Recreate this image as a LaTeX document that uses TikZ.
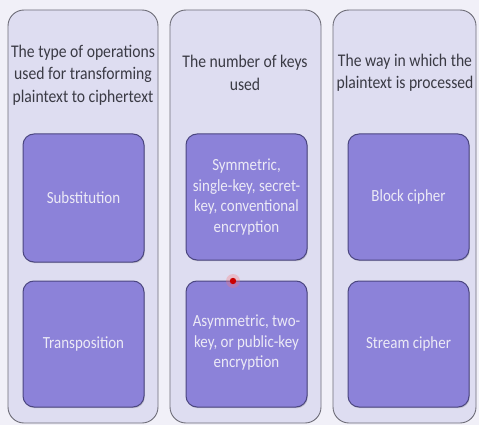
\documentclass[tikz,border=0pt]{standalone}
\usepackage{fontspec}
\setmainfont{Carlito}[FakeStretch=0.88]
\usetikzlibrary{shadows}
\definecolor{bgcol}{HTML}{F1F0F8}
\definecolor{panelfill}{HTML}{DEDDF1}
\definecolor{panelline}{HTML}{6E6D78}
\definecolor{boxfill}{HTML}{8C82D9}
\definecolor{boxline}{HTML}{4B4680}
\definecolor{headtext}{HTML}{3A3A44}
\definecolor{boxtext}{HTML}{ECEAF6}
\begin{document}
\begin{tikzpicture}[x=1pt,y=-1pt,
  panel/.style={draw=panelline, line width=0.9pt, fill=panelfill, rounded corners=16pt},
  catbox/.style={draw=boxline, line width=1pt, fill=boxfill, rounded corners=11pt,
    drop shadow={shadow xshift=0.8pt, shadow yshift=-1.2pt, opacity=0.35}},
  head/.style={text=headtext, font=\fontsize{17.8}{22.5}\selectfont, align=center, inner sep=0pt},
  lbl/.style={text=boxtext, font=\fontsize{17}{20.5}\selectfont, align=center, inner sep=0pt}]
\fill[bgcol] (0,0) rectangle (479,425);
\useasboundingbox (0,0) rectangle (479,425);

% three category columns
\draw[panel] (8,10) rectangle (158,423);
\draw[panel] (170,10) rectangle (321,423);
\draw[panel] (333,10) rectangle (476,423);

% column headings
\node[head] (h1) at (83,75) {The type of operations\\used for transforming\\plaintext to ciphertext};
\node[head] (h2) at (245,73) {The number of keys\\used};
\node[head] (h3) at (405,73) {The way in which the\\plaintext is processed};

% boxes of each column
\draw[catbox] (23,134) rectangle (144,262);
\node[lbl] (sub) at (83.5,198) {Substitution};
\draw[catbox] (23,281) rectangle (144,407);
\node[lbl] (tra) at (83.5,344) {Transposition};

\draw[catbox] (186,134) rectangle (307,260);
\node[lbl] (sym) at (246.5,197) {Symmetric,\\single-key, secret-\\key, conventional\\encryption};
\draw[catbox] (186,281) rectangle (307,407);
\node[lbl] (asy) at (246.5,343) {Asymmetric, two-\\key, or public-key\\encryption};

\draw[catbox] (348,134) rectangle (469,260);
\node[lbl] (blk) at (408.5,197) {Block cipher};
\draw[catbox] (348,281) rectangle (469,407);
\node[lbl] (str) at (408.5,344) {Stream cipher};

% pointer highlight
\fill[red!55, opacity=0.3] (233,281) circle (7);
\fill[red!80!black] (233,281) circle (3.2);
\end{tikzpicture}
\end{document}
